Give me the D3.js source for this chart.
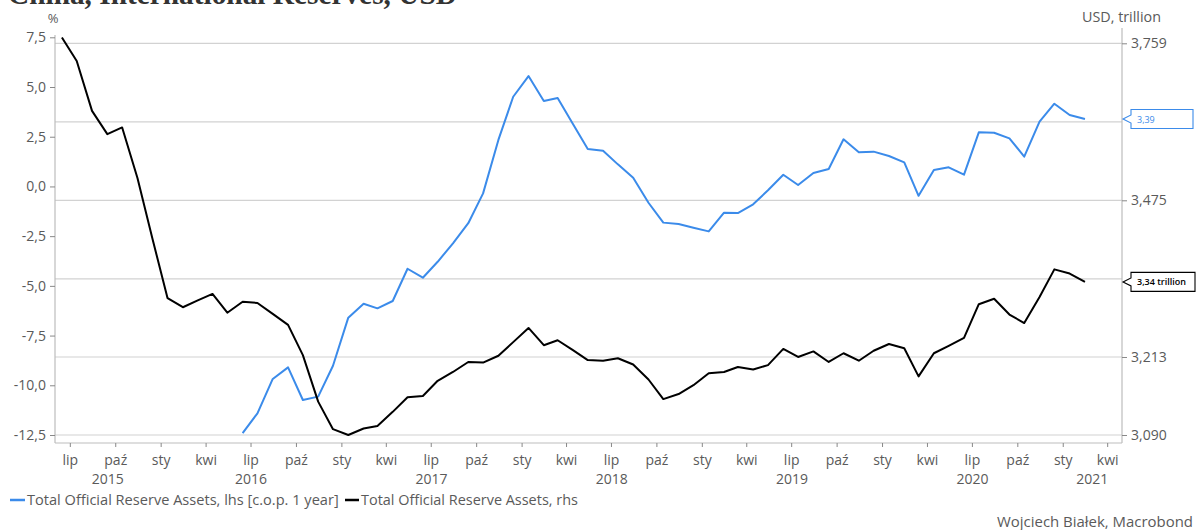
<!DOCTYPE html>
<html>
<head>
<meta charset="utf-8">
<script src="https://cdn.jsdelivr.net/npm/d3@7"></script>
<style>
  html, body { margin: 0; padding: 0; background: #fff; }
  svg { display: block; }
</style>
</head>
<body>
<svg id="chart" width="1201" height="530"></svg>
<script>
// ---------- DATA ----------
const titleText = "China, International Reserves, USD";
const startMonth = [2015, 5]; // June 2015 (month index 5)
// Total Official Reserve Assets, USD trillion (rhs), Jun 2015 .. Feb 2021
const reservesRhs = [
  3.770, 3.726, 3.634, 3.592, 3.604, 3.514, 3.410, 3.309, 3.294, 3.305, 3.316, 3.285,
  3.303, 3.301, 3.283, 3.265, 3.216, 3.142, 3.099, 3.090, 3.100, 3.104, 3.126, 3.149,
  3.151, 3.175, 3.189, 3.205, 3.204, 3.215, 3.237, 3.260, 3.232, 3.240, 3.224, 3.208,
  3.207, 3.211, 3.201, 3.177, 3.146, 3.154, 3.168, 3.187, 3.189, 3.197, 3.193, 3.200,
  3.226, 3.213, 3.222, 3.205, 3.219, 3.207, 3.223, 3.234, 3.227, 3.182, 3.219, 3.231,
  3.244, 3.299, 3.308, 3.282, 3.268, 3.311, 3.357, 3.350, 3.336
];
// Total Official Reserve Assets, lhs [c.o.p. 1 year], %, Jun 2016 .. Feb 2021
const yoyStartOffset = 12;
const reservesYoY = [
  -12.41, -11.41, -9.68, -9.10, -10.74, -10.57, -9.02, -6.60, -5.90, -6.13, -5.76, -4.14,
  -4.59, -3.79, -2.86, -1.85, -0.35, 2.34, 4.51, 5.55, 4.30, 4.45, 3.14, 1.88,
  1.80, 1.11, 0.44, -0.82, -1.82, -1.89, -2.08, -2.26, -1.32, -1.34, -0.90, -0.19,
  0.59, 0.07, 0.68, 0.88, 2.37, 1.72, 1.75, 1.53, 1.21, -0.47, 0.83, 0.96,
  0.59, 2.72, 2.70, 2.42, 1.50, 3.26, 4.16, 3.59, 3.39
];
const leftTicks = [7.5, 5.0, 2.5, 0.0, -2.5, -5.0, -7.5, -10.0, -12.5];
const rightGrid = [3.759, 3.614, 3.475, 3.341, 3.213, 3.090];
const rightLabelled = [3.759, 3.475, 3.213, 3.090];
const monthNames = ["sty","lut","mar","kwi","maj","cze","lip","sie","wrz","paź","lis","gru"];
const legendLabels = ["Total Official Reserve Assets, lhs [c.o.p. 1 year]", "Total Official Reserve Assets, rhs"];
const calloutBlue = "3,39";
const calloutBlack = "3,34 trillion";
const sourceText = "Wojciech Białek, Macrobond";

// ---------- STYLE ----------
const BLUE = "#3b8bea";
const BLACK = "#000000";
const TEXT = "#5a5a5a";
const GRID = "#d2d2d2";
const AXIS = "#bdbdbd";
const FONT = "'Open Sans', 'Noto Sans', sans-serif";
const FS = 14;

const svg = d3.select("#chart");
const L = 55, R = 1122, AXY = 443;

const x = d3.scaleTime()
  .domain([new Date(2015, 5, 1), new Date(2021, 4, 1)])
  .range([L, R]);
const yL = d3.scaleLinear().domain([-12.5, 7.5]).range([435, 37.3]);
const yR = d3.scaleLog().domain([3.090, 3.759]).range([435, 43.3]);

const dateAt = i => new Date(startMonth[0], startMonth[1] + i, 15);
const fmt1 = d => d3.format(".1f")(d).replace(".", ",").replace("−", "-");
const fmt3 = d => d3.format(".3f")(d).replace(".", ",");

function fitText(sel, w) {
  const n = sel.node();
  const fs = parseFloat(sel.attr("font-size"));
  const cur = n.getComputedTextLength();
  if (cur > 0) sel.attr("font-size", (fs * w / cur).toFixed(2));
}

// Title (clipped at top edge, as in the reference)
const t = svg.append("text").attr("x", 8).attr("y", 4)
  .attr("font-family", "'Liberation Serif', 'DejaVu Serif', serif")
  .attr("font-weight", "bold").attr("font-size", 29).attr("fill", "#333")
  .text(titleText);
fitText(t, 449);

// Gridlines (from right log axis)
svg.append("g").selectAll("line").data(rightGrid).join("line")
  .attr("x1", L).attr("x2", R)
  .attr("y1", d => yR(d)).attr("y2", d => yR(d))
  .attr("stroke", GRID).attr("stroke-width", 1.2);

// Axes lines
svg.append("line").attr("x1", L).attr("x2", L).attr("y1", 35).attr("y2", AXY)
  .attr("stroke", AXIS).attr("stroke-width", 1.2);
svg.append("line").attr("x1", R).attr("x2", R).attr("y1", 28).attr("y2", AXY)
  .attr("stroke", AXIS).attr("stroke-width", 1.2);
svg.append("line").attr("x1", L).attr("x2", R).attr("y1", AXY).attr("y2", AXY)
  .attr("stroke", AXIS).attr("stroke-width", 1.2);

// Left axis
const gl = svg.append("g").attr("transform", `translate(${L},0)`)
  .call(d3.axisLeft(yL).tickValues(leftTicks).tickFormat(fmt1).tickSize(5).tickPadding(4));
gl.select(".domain").remove();
gl.selectAll(".tick line").attr("stroke", "#888");
gl.selectAll("text").attr("font-family", FONT).attr("font-size", FS).attr("fill", TEXT);

// Right axis
const gr = svg.append("g").attr("transform", `translate(${R},0)`)
  .call(d3.axisRight(yR).tickValues(rightLabelled).tickFormat(fmt3).tickSize(5).tickPadding(4));
gr.select(".domain").remove();
gr.selectAll(".tick line").attr("stroke", "#888");
gr.selectAll("text").attr("font-family", FONT).attr("font-size", FS).attr("fill", TEXT);

// Axis unit labels
svg.append("text").attr("x", 53).attr("y", 23).attr("text-anchor", "middle")
  .attr("font-family", FONT).attr("font-size", 13).attr("fill", TEXT).text("%");
const ul = svg.append("text").attr("x", 1082).attr("y", 22)
  .attr("font-family", FONT).attr("font-size", FS).attr("fill", TEXT).text("USD, trillion");
fitText(ul, 79);

// Bottom axis: quarterly ticks
const quarterTicks = d3.timeMonth.every(3).range(new Date(2015, 6, 1), new Date(2021, 4, 2));
const gb = svg.append("g").attr("transform", `translate(0,${AXY})`)
  .call(d3.axisBottom(x).tickValues(quarterTicks).tickSize(4).tickPadding(8)
    .tickFormat(d => monthNames[d.getMonth()]));
gb.select(".domain").remove();
gb.selectAll(".tick line").attr("stroke", "#888");
gb.selectAll("text").attr("font-family", FONT).attr("font-size", FS).attr("fill", TEXT);

// Year labels
const years = d3.range(2015, 2022);
svg.append("g").selectAll("text").data(years).join("text")
  .attr("x", yr => {
    const a = Math.max(x(new Date(yr, 0, 1)), L);
    const b = Math.min(x(new Date(yr + 1, 0, 1)), R);
    return (a + b) / 2;
  })
  .attr("y", 484).attr("text-anchor", "middle")
  .attr("font-family", FONT).attr("font-size", FS).attr("fill", TEXT)
  .text(d => d);

// Lines
const lineR = d3.line().x((d, i) => x(dateAt(i))).y(d => yR(d));
const lineL = d3.line().x((d, i) => x(dateAt(i + yoyStartOffset))).y(d => yL(d));
svg.append("path").datum(reservesYoY).attr("d", lineL)
  .attr("fill", "none").attr("stroke", BLUE).attr("stroke-width", 2).attr("stroke-linejoin", "round");
svg.append("path").datum(reservesRhs).attr("d", lineR)
  .attr("fill", "none").attr("stroke", BLACK).attr("stroke-width", 2).attr("stroke-linejoin", "round");

// Callouts
function callout(yv, color, label, bold, w) {
  const x0 = R + 1, bx = 1131, h = 9.5, bw = w;
  const p = `M${x0},${yv} L${bx},${yv - 4} L${bx},${yv - h} L${bx + bw},${yv - h} L${bx + bw},${yv + h} L${bx},${yv + h} L${bx},${yv + 4} Z`;
  svg.append("path").attr("d", p).attr("fill", "#fff").attr("stroke", color).attr("stroke-width", 1.1);
  svg.append("text").attr("x", bx + 6).attr("y", yv + 3.5)
    .attr("font-family", FONT).attr("font-size", 9).attr("fill", color)
    .attr("font-weight", bold ? 600 : 400).text(label);
}
callout(yL(reservesYoY[reservesYoY.length - 1]), BLUE, calloutBlue, false, 62);
callout(yR(reservesRhs[reservesRhs.length - 1]), BLACK, calloutBlack, true, 64);

// Legend
const lg = svg.append("g");
lg.append("line").attr("x1", 10).attr("x2", 25).attr("y1", 500).attr("y2", 500)
  .attr("stroke", BLUE).attr("stroke-width", 2.5);
const lt1 = lg.append("text").attr("x", 27).attr("y", 505)
  .attr("font-family", FONT).attr("font-size", 13).attr("fill", TEXT).text(legendLabels[0]);
fitText(lt1, 312);
lg.append("line").attr("x1", 345).attr("x2", 359).attr("y1", 500).attr("y2", 500)
  .attr("stroke", BLACK).attr("stroke-width", 2.5);
const lt2 = lg.append("text").attr("x", 361).attr("y", 505)
  .attr("font-family", FONT).attr("font-size", 13).attr("fill", TEXT).text(legendLabels[1]);
fitText(lt2, 217);

// Source
const st = svg.append("text").attr("x", 1193).attr("y", 527).attr("text-anchor", "end")
  .attr("font-family", FONT).attr("font-size", 13).attr("fill", TEXT).text(sourceText);
fitText(st, 196);
</script>
</body>
</html>
